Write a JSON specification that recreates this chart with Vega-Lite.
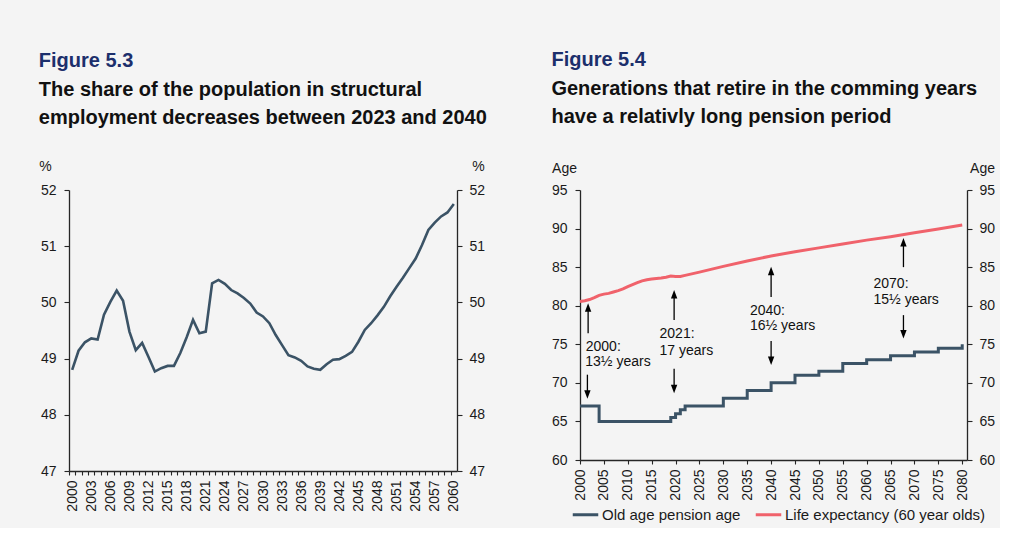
{
  "$schema": "https://vega.github.io/schema/vega-lite/v6.json",
  "background": "#f4f4f4",
  "padding": {"left": 38, "top": 50, "right": 5, "bottom": 5},
  "spacing": 64,
  "resolve": {"scale": {"color": "independent"}, "legend": {"color": "independent"}},
  "config": {
    "font": "Liberation Sans",
    "view": {"stroke": null},
    "axis": {
      "labelFont": "Liberation Sans", "labelFontSize": 14, "labelColor": "#1a1a1a",
      "domainColor": "#262626", "tickColor": "#262626", "domainWidth": 1.3, "tickWidth": 1.1,
      "grid": false, "tickSize": 5, "titleFont": "Liberation Sans", "titleFontWeight": "normal",
      "titleFontSize": 14, "titleColor": "#1a1a1a"
    },
    "title": {
      "anchor": "start", "frame": "bounds", "font": "Liberation Sans", "fontSize": 20, "fontWeight": "bold",
      "color": "#1c2f6c", "subtitleFont": "Liberation Sans", "subtitleFontSize": 20, "subtitleFontWeight": "bold",
      "subtitleColor": "#111111", "subtitleLineHeight": 28, "subtitlePadding": 9, "offset": 31
    }
  },
  "datasets": {
    "employment": [
      {"year": 2000, "share": 48.80}, {"year": 2001, "share": 49.14}, {"year": 2002, "share": 49.29},
      {"year": 2003, "share": 49.36}, {"year": 2004, "share": 49.34}, {"year": 2005, "share": 49.78},
      {"year": 2006, "share": 50.01}, {"year": 2007, "share": 50.21}, {"year": 2008, "share": 50.03},
      {"year": 2009, "share": 49.48}, {"year": 2010, "share": 49.15}, {"year": 2011, "share": 49.28},
      {"year": 2012, "share": 49.03}, {"year": 2013, "share": 48.77}, {"year": 2014, "share": 48.83},
      {"year": 2015, "share": 48.87}, {"year": 2016, "share": 48.87}, {"year": 2017, "share": 49.10},
      {"year": 2018, "share": 49.38}, {"year": 2019, "share": 49.69}, {"year": 2020, "share": 49.45},
      {"year": 2021, "share": 49.48}, {"year": 2022, "share": 50.34}, {"year": 2023, "share": 50.40},
      {"year": 2024, "share": 50.33}, {"year": 2025, "share": 50.22}, {"year": 2026, "share": 50.16},
      {"year": 2027, "share": 50.08}, {"year": 2028, "share": 49.98}, {"year": 2029, "share": 49.82},
      {"year": 2030, "share": 49.75}, {"year": 2031, "share": 49.63}, {"year": 2032, "share": 49.42},
      {"year": 2033, "share": 49.24}, {"year": 2034, "share": 49.06}, {"year": 2035, "share": 49.02},
      {"year": 2036, "share": 48.96}, {"year": 2037, "share": 48.86}, {"year": 2038, "share": 48.82},
      {"year": 2039, "share": 48.80}, {"year": 2040, "share": 48.90}, {"year": 2041, "share": 48.98},
      {"year": 2042, "share": 48.99}, {"year": 2043, "share": 49.05}, {"year": 2044, "share": 49.12},
      {"year": 2045, "share": 49.30}, {"year": 2046, "share": 49.51}, {"year": 2047, "share": 49.63},
      {"year": 2048, "share": 49.77}, {"year": 2049, "share": 49.92}, {"year": 2050, "share": 50.11},
      {"year": 2051, "share": 50.28}, {"year": 2052, "share": 50.44}, {"year": 2053, "share": 50.61},
      {"year": 2054, "share": 50.78}, {"year": 2055, "share": 51.02}, {"year": 2056, "share": 51.29},
      {"year": 2057, "share": 51.42}, {"year": 2058, "share": 51.53}, {"year": 2059, "share": 51.60},
      {"year": 2060, "share": 51.75}
    ],
    "pension": [
      {"year": 2000, "value": 67, "series": "Old age pension age"},
      {"year": 2004, "value": 65, "series": "Old age pension age"},
      {"year": 2019, "value": 65.5, "series": "Old age pension age"},
      {"year": 2020, "value": 66, "series": "Old age pension age"},
      {"year": 2021, "value": 66.5, "series": "Old age pension age"},
      {"year": 2022, "value": 67, "series": "Old age pension age"},
      {"year": 2030, "value": 68, "series": "Old age pension age"},
      {"year": 2035, "value": 69, "series": "Old age pension age"},
      {"year": 2040, "value": 70, "series": "Old age pension age"},
      {"year": 2045, "value": 71, "series": "Old age pension age"},
      {"year": 2050, "value": 71.5, "series": "Old age pension age"},
      {"year": 2055, "value": 72.5, "series": "Old age pension age"},
      {"year": 2060, "value": 73, "series": "Old age pension age"},
      {"year": 2065, "value": 73.5, "series": "Old age pension age"},
      {"year": 2070, "value": 74, "series": "Old age pension age"},
      {"year": 2075, "value": 74.5, "series": "Old age pension age"},
      {"year": 2080, "value": 75, "series": "Old age pension age"}
    ],
    "life": [
      {"year": 2000, "value": 80.55, "series": "Life expectancy (60 year olds)"},
      {"year": 2001, "value": 80.65, "series": "Life expectancy (60 year olds)"},
      {"year": 2002, "value": 80.8, "series": "Life expectancy (60 year olds)"},
      {"year": 2003, "value": 81.05, "series": "Life expectancy (60 year olds)"},
      {"year": 2004, "value": 81.35, "series": "Life expectancy (60 year olds)"},
      {"year": 2005, "value": 81.5, "series": "Life expectancy (60 year olds)"},
      {"year": 2006, "value": 81.6, "series": "Life expectancy (60 year olds)"},
      {"year": 2007, "value": 81.78, "series": "Life expectancy (60 year olds)"},
      {"year": 2008, "value": 81.95, "series": "Life expectancy (60 year olds)"},
      {"year": 2009, "value": 82.17, "series": "Life expectancy (60 year olds)"},
      {"year": 2010, "value": 82.47, "series": "Life expectancy (60 year olds)"},
      {"year": 2011, "value": 82.72, "series": "Life expectancy (60 year olds)"},
      {"year": 2012, "value": 82.98, "series": "Life expectancy (60 year olds)"},
      {"year": 2013, "value": 83.22, "series": "Life expectancy (60 year olds)"},
      {"year": 2014, "value": 83.37, "series": "Life expectancy (60 year olds)"},
      {"year": 2015, "value": 83.46, "series": "Life expectancy (60 year olds)"},
      {"year": 2016, "value": 83.54, "series": "Life expectancy (60 year olds)"},
      {"year": 2017, "value": 83.58, "series": "Life expectancy (60 year olds)"},
      {"year": 2018, "value": 83.7, "series": "Life expectancy (60 year olds)"},
      {"year": 2019, "value": 83.84, "series": "Life expectancy (60 year olds)"},
      {"year": 2020, "value": 83.8, "series": "Life expectancy (60 year olds)"},
      {"year": 2021, "value": 83.8, "series": "Life expectancy (60 year olds)"},
      {"year": 2022, "value": 83.93, "series": "Life expectancy (60 year olds)"},
      {"year": 2025, "value": 84.35, "series": "Life expectancy (60 year olds)"},
      {"year": 2030, "value": 85.1, "series": "Life expectancy (60 year olds)"},
      {"year": 2035, "value": 85.8, "series": "Life expectancy (60 year olds)"},
      {"year": 2040, "value": 86.45, "series": "Life expectancy (60 year olds)"},
      {"year": 2045, "value": 87.0, "series": "Life expectancy (60 year olds)"},
      {"year": 2050, "value": 87.5, "series": "Life expectancy (60 year olds)"},
      {"year": 2055, "value": 88.0, "series": "Life expectancy (60 year olds)"},
      {"year": 2060, "value": 88.5, "series": "Life expectancy (60 year olds)"},
      {"year": 2065, "value": 88.95, "series": "Life expectancy (60 year olds)"},
      {"year": 2070, "value": 89.45, "series": "Life expectancy (60 year olds)"},
      {"year": 2075, "value": 89.95, "series": "Life expectancy (60 year olds)"},
      {"year": 2080, "value": 90.45, "series": "Life expectancy (60 year olds)"}
    ],
    "arrows": [
      {"year": 2001.7, "from": 76.42, "head": 79.77, "dir": "up"},
      {"year": 2001.55, "from": 71.06, "head": 68.49, "dir": "down"},
      {"year": 2019.7, "from": 78.14, "head": 81.49, "dir": "up"},
      {"year": 2019.7, "from": 71.83, "head": 69.21, "dir": "down"},
      {"year": 2040.0, "from": 81.14, "head": 84.49, "dir": "up"},
      {"year": 2040.0, "from": 75.44, "head": 72.87, "dir": "down"},
      {"year": 2067.7, "from": 85.0, "head": 88.22, "dir": "up"},
      {"year": 2067.7, "from": 78.78, "head": 76.30, "dir": "down"}
    ],
    "notes": [
      {"year": 2001.2, "value": 74.70, "label": "2000:"},
      {"year": 2001.1, "value": 72.68, "label": "13½ years"},
      {"year": 2016.65, "value": 76.29, "label": "2021:"},
      {"year": 2016.65, "value": 74.15, "label": "17 years"},
      {"year": 2035.57, "value": 79.34, "label": "2040:"},
      {"year": 2035.57, "value": 77.41, "label": "16½ years"},
      {"year": 2061.43, "value": 82.77, "label": "2070:"},
      {"year": 2061.43, "value": 80.71, "label": "15½ years"}
    ]
  },
  "hconcat": [
    {
      "width": 388,
      "height": 281,
      "title": {"text": "Figure 5.3", "subtitle": ["The share of the population in structural", "employment decreases between 2023 and 2040"]},
      "data": {"name": "employment"},
      "encoding": {
        "x": {
          "field": "year", "type": "quantitative",
          "scale": {"domain": [1999.5, 2060.5], "nice": false, "zero": false},
          "axis": {
            "title": null, "format": "d",
            "values": [2000,2001,2002,2003,2004,2005,2006,2007,2008,2009,2010,2011,2012,2013,2014,2015,2016,2017,2018,2019,2020,2021,2022,2023,2024,2025,2026,2027,2028,2029,2030,2031,2032,2033,2034,2035,2036,2037,2038,2039,2040,2041,2042,2043,2044,2045,2046,2047,2048,2049,2050,2051,2052,2053,2054,2055,2056,2057,2058,2059,2060],
            "labelExpr": "(datum.value - 2000) % 3 === 0 ? datum.label : ''",
            "labelAngle": 270, "labelAlign": "right", "labelBaseline": "middle",
            "tickOffset": -3.18, "labelOffset": 3.18, "tickSize": 4, "labelPadding": 5,
            "labelOverlap": false, "labelFlush": false, "labelBound": false
          }
        }
      },
      "layer": [
        {
          "mark": {"type": "line", "color": "#3b5366", "strokeWidth": 2.6},
          "encoding": {
            "y": {
              "field": "share", "type": "quantitative",
              "scale": {"domain": [47, 52], "nice": false, "zero": false},
              "axis": {"orient": "left", "values": [47, 48, 49, 50, 51, 52], "title": "%", "titleAngle": 0,
                       "titleX": -24, "titleY": -17, "titleAlign": "center", "titleBaseline": "bottom", "labelPadding": 8}
            }
          }
        },
        {
          "mark": {"type": "line", "strokeOpacity": 0},
          "encoding": {
            "y": {
              "field": "share", "type": "quantitative",
              "scale": {"domain": [47, 52], "nice": false, "zero": false},
              "axis": {"orient": "right", "values": [47, 48, 49, 50, 51, 52], "title": "%", "titleAngle": 0,
                       "titleX": 21, "titleY": -17, "titleAlign": "center", "titleBaseline": "bottom", "labelPadding": 7}
            }
          }
        }
      ],
      "resolve": {"axis": {"y": "independent"}}
    },
    {
      "width": 387,
      "height": 270,
      "title": {"text": "Figure 5.4", "subtitle": ["Generations that retire in the comming years", "have a relativly long pension period"], "offset": 34},
      "encoding": {
        "x": {
          "field": "year", "type": "quantitative",
          "scale": {"domain": [2000, 2081], "nice": false, "zero": false},
          "axis": {
            "title": null, "format": "d",
            "values": [2000, 2005, 2010, 2015, 2020, 2025, 2030, 2035, 2040, 2045, 2050, 2055, 2060, 2065, 2070, 2075, 2080],
            "labelAngle": 270, "labelAlign": "right", "labelBaseline": "middle",
            "tickSize": 4, "labelPadding": 5, "labelOverlap": false, "labelFlush": false, "labelBound": false
          }
        }
      },
      "layer": [
        {
          "data": {"name": "pension"},
          "mark": {"type": "line", "interpolate": "step-after", "strokeWidth": 3},
          "encoding": {
            "y": {
              "field": "value", "type": "quantitative",
              "scale": {"domain": [60, 95], "nice": false, "zero": false},
              "axis": {"orient": "left", "values": [60, 65, 70, 75, 80, 85, 90, 95], "title": "Age", "titleAngle": 0,
                       "titleX": -16, "titleY": -15, "titleAlign": "center", "titleBaseline": "bottom", "labelPadding": 8}
            },
            "color": {
              "field": "series", "type": "nominal",
              "scale": {"domain": ["Old age pension age", "Life expectancy (60 year olds)"], "range": ["#3b5366", "#f0626b"]},
              "legend": {
                "orient": "none", "legendX": -9, "legendY": 310, "direction": "horizontal", "title": null,
                "symbolType": "stroke", "symbolStrokeWidth": 3, "symbolSize": 650, "labelFontSize": 15,
                "labelFont": "Liberation Sans", "labelColor": "#1a1a1a", "columnPadding": 8, "labelOffset": 2,
                "labelLimit": 300
              }
            }
          }
        },
        {
          "data": {"name": "life"},
          "mark": {"type": "line", "strokeWidth": 3},
          "encoding": {
            "y": {"field": "value", "type": "quantitative", "scale": {"domain": [60, 95], "nice": false, "zero": false}, "axis": null},
            "color": {"field": "series", "type": "nominal"}
          }
        },
        {
          "data": {"name": "arrows"},
          "mark": {"type": "rule", "color": "#000000", "strokeWidth": 1.3},
          "encoding": {
            "y": {"field": "from", "type": "quantitative", "scale": {"domain": [60, 95], "nice": false, "zero": false}, "axis": null},
            "y2": {"field": "head"}
          }
        },
        {
          "data": {"name": "arrows"},
          "mark": {"type": "point", "filled": true, "color": "#000000", "opacity": 1, "size": 72, "strokeWidth": 0},
          "encoding": {
            "y": {"field": "head", "type": "quantitative", "scale": {"domain": [60, 95], "nice": false, "zero": false}, "axis": null},
            "shape": {"field": "dir", "type": "nominal", "legend": null,
                      "scale": {"domain": ["up", "down"], "range": ["M0,-1L0.75,1L-0.75,1Z", "M0,1L0.75,-1L-0.75,-1Z"]}}
          }
        },
        {
          "data": {"name": "notes"},
          "mark": {"type": "text", "align": "left", "baseline": "middle", "fontSize": 14, "font": "Liberation Sans", "color": "#111111"},
          "encoding": {
            "y": {"field": "value", "type": "quantitative", "scale": {"domain": [60, 95], "nice": false, "zero": false}, "axis": null},
            "text": {"field": "label", "type": "nominal"}
          }
        },
        {
          "data": {"name": "life"},
          "mark": {"type": "line", "strokeOpacity": 0},
          "encoding": {
            "y": {
              "field": "value", "type": "quantitative",
              "scale": {"domain": [60, 95], "nice": false, "zero": false},
              "axis": {"orient": "right", "values": [60, 65, 70, 75, 80, 85, 90, 95], "title": "Age", "titleAngle": 0,
                       "titleX": 15, "titleY": -15, "titleAlign": "center", "titleBaseline": "bottom", "labelPadding": 7}
            }
          }
        }
      ],
      "resolve": {"axis": {"y": "independent"}}
    }
  ]
}
